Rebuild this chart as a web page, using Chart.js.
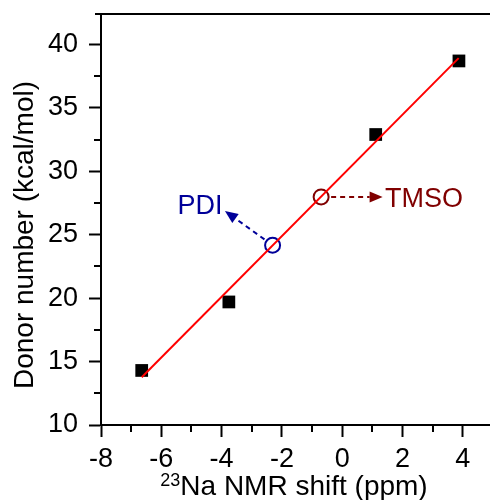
<!DOCTYPE html>
<html>
<head>
<meta charset="utf-8">
<script src="https://cdn.jsdelivr.net/npm/chart.js@4/dist/chart.umd.min.js"></script>
<style>
    html, body { margin: 0; padding: 0; background: #fff; overflow: hidden; }
</style>
</head>
<body>
<canvas id="myChart" width="490" height="500"></canvas>
<script>
// measured solvents (black squares)
var shiftX = [-6.65, -3.76, 1.11, 3.87];
var donorY = [14.3, 19.7, 32.9, 38.7];

// linear fit, end points
var fitX = [-6.65, 3.86];
var fitY = [13.76, 38.92];

// predicted solvents (open circles)
var predNames = ['PDI', 'TMSO'];
var predX = [-2.31, -0.70];
var predY = [24.17, 27.98];

// tick labels
var xTicks = [-8, -6, -4, -2, 0, 2, 4];
var yTicks = [10, 15, 20, 25, 30, 35, 40];

// where each label / arrow tip sits (data units)
var predColors = ['#000099', '#800000'];
var tipX = [-3.89, 1.34];
var tipY = [26.87, 27.98];
var labelX = [-4.72, 1.42];
var labelY = [27.2, 27.8];
var labelAlign = ['center', 'left'];

var FONT = '"Liberation Sans", Arial, sans-serif';

function toPts(xs, ys) {
    return xs.map(function (x, i) { return {x: x, y: ys[i]}; });
}

function dashedArrow(ctx, x0, y0, x1, y1, color) {
    var ang = Math.atan2(y1 - y0, x1 - x0);
    var hl = 13, hw = 5.5;
    var bx = x1 - hl * Math.cos(ang), by = y1 - hl * Math.sin(ang);
    ctx.strokeStyle = color;
    ctx.fillStyle = color;
    ctx.lineWidth = 2;
    ctx.setLineDash([5, 4]);
    ctx.beginPath();
    ctx.moveTo(x0, y0);
    ctx.lineTo(bx, by);
    ctx.stroke();
    ctx.setLineDash([]);
    ctx.beginPath();
    ctx.moveTo(x1, y1);
    ctx.lineTo(bx - hw * Math.sin(ang), by + hw * Math.cos(ang));
    ctx.lineTo(bx + hw * Math.sin(ang), by - hw * Math.cos(ang));
    ctx.closePath();
    ctx.fill();
}

var extras = {
    id: 'extras',
    afterDraw: function (chart) {
        var ctx = chart.ctx, a = chart.chartArea;
        var xs = chart.scales.x, ys = chart.scales.y;
        ctx.save();
        ctx.strokeStyle = '#000';
        ctx.lineWidth = 2;

        // top frame
        ctx.beginPath();
        ctx.moveTo(a.left - 6, a.top);
        ctx.lineTo(a.right, a.top);
        ctx.stroke();

        // minor ticks half way between majors
        ctx.beginPath();
        for (var i = 0; i < xTicks.length; i++) {
            var mx = xTicks[i] + (xTicks[1] - xTicks[0]) / 2;
            if (mx > xs.max) continue;
            var px = Math.round(xs.getPixelForValue(mx));
            ctx.moveTo(px, a.bottom);
            ctx.lineTo(px, a.bottom + 7);
        }
        for (var j = 0; j < yTicks.length; j++) {
            var my = yTicks[j] + (yTicks[1] - yTicks[0]) / 2;
            if (my > ys.max) continue;
            var py = Math.round(ys.getPixelForValue(my));
            ctx.moveTo(a.left, py);
            ctx.lineTo(a.left - 7, py);
        }
        ctx.stroke();

        // arrows and labels for the predicted points
        for (var k = 0; k < predNames.length; k++) {
            var cx = xs.getPixelForValue(predX[k]), cy = ys.getPixelForValue(predY[k]);
            var tx = xs.getPixelForValue(tipX[k]), ty = ys.getPixelForValue(tipY[k]);
            var d = Math.hypot(tx - cx, ty - cy);
            var sx = cx + (tx - cx) / d * 10, sy = cy + (ty - cy) / d * 10;
            dashedArrow(ctx, sx, sy, tx, ty, predColors[k]);
            ctx.fillStyle = predColors[k];
            ctx.font = '27px ' + FONT;
            ctx.textAlign = labelAlign[k];
            ctx.textBaseline = 'middle';
            ctx.fillText(predNames[k], xs.getPixelForValue(labelX[k]), ys.getPixelForValue(labelY[k]));
        }

        // axis titles
        ctx.fillStyle = '#000';
        ctx.save();
        ctx.translate(25, 235);
        ctx.rotate(-Math.PI / 2);
        ctx.font = '28px ' + FONT;
        ctx.textAlign = 'center';
        ctx.textBaseline = 'middle';
        ctx.fillText('Donor number (kcal/mol)', 0, 0);
        ctx.restore();

        ctx.textAlign = 'left';
        ctx.textBaseline = 'alphabetic';
        ctx.font = '18px ' + FONT;
        var supW = ctx.measureText('23').width;
        ctx.font = '28px ' + FONT;
        var mainW = ctx.measureText('Na NMR shift (ppm)').width;
        var x0 = 294 - (supW + mainW) / 2;
        ctx.font = '18px ' + FONT;
        ctx.fillText('23', x0, 486);
        ctx.font = '28px ' + FONT;
        ctx.fillText('Na NMR shift (ppm)', x0 + supW, 495);

        ctx.restore();
    }
};

var ctx = document.getElementById('myChart').getContext('2d');

var myChart = new Chart(ctx, {
    type: 'scatter',
    data: {
        datasets: [
            {
                type: 'line',
                data: toPts(fitX, fitY),
                borderColor: '#ff0000',
                borderWidth: 2,
                pointRadius: 0,
                fill: false
            },
            {
                data: toPts(shiftX, donorY),
                pointStyle: 'rect',
                pointRadius: 9,
                backgroundColor: '#000',
                borderColor: '#000',
                borderWidth: 0
            },
            {
                data: toPts(predX, predY),
                pointStyle: 'circle',
                pointRadius: 7.5,
                backgroundColor: 'rgba(0,0,0,0)',
                borderColor: predColors,
                borderWidth: 2
            }
        ]
    },
    options: {
        responsive: false,
        animation: false,
        devicePixelRatio: 1,
        layout: {autoPadding: false, padding: {left: 0, right: 0, top: 14, bottom: 0}},
        plugins: {legend: {display: false}, tooltip: {enabled: false}},
        scales: {
            x: {
                type: 'linear',
                min: -8,
                max: 4.9,
                afterBuildTicks: function (scale) {
                    scale.ticks = xTicks.map(function (v) { return {value: v}; });
                },
                afterFit: function (scale) {
                    scale.height = 75;
                    scale.paddingLeft = 0;
                    scale.paddingRight = 0;
                },
                border: {color: '#000', width: 2},
                grid: {drawOnChartArea: false, tickLength: 12, tickWidth: 2, tickColor: '#000'},
                ticks: {color: '#000', padding: 6, font: {family: FONT, size: 27}}
            },
            y: {
                type: 'linear',
                min: 10,
                max: 42.4,
                afterBuildTicks: function (scale) {
                    scale.ticks = yTicks.map(function (v) { return {value: v}; });
                },
                afterFit: function (scale) {
                    scale.width = 101;
                    scale.paddingTop = 0;
                    scale.paddingBottom = 0;
                },
                border: {color: '#000', width: 2},
                grid: {drawOnChartArea: false, tickLength: 12, tickWidth: 2, tickColor: '#000'},
                ticks: {color: '#000', padding: 11, font: {family: FONT, size: 27}}
            }
        }
    },
    plugins: [extras]
});
</script>
</body>
</html>
